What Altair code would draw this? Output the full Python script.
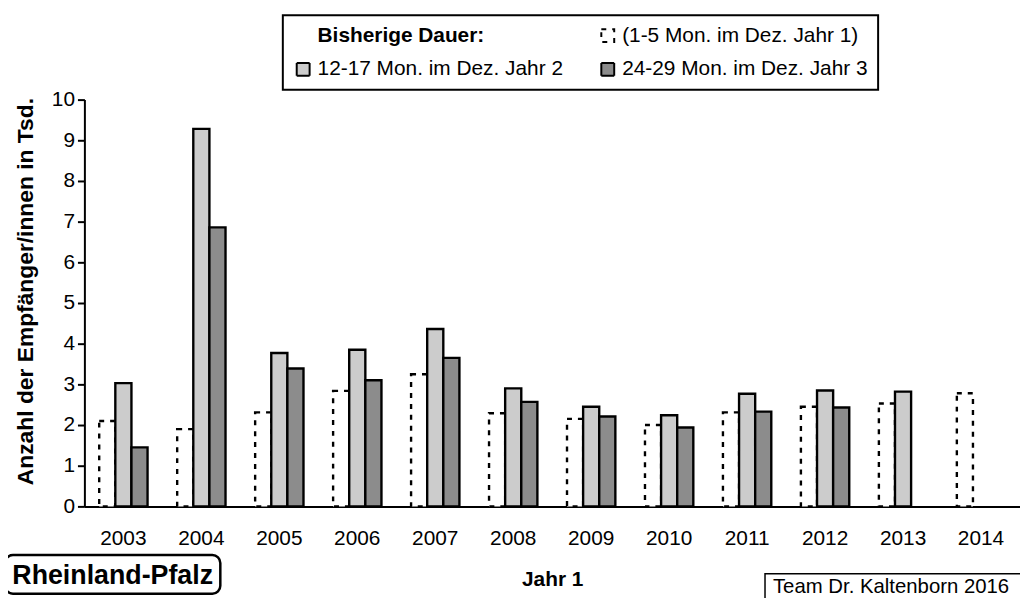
import altair as alt
import pandas as pd

years = [str(y) for y in range(2003, 2015)]
legend_labels = [
    "Bisherige Dauer:",
    "(1-5 Mon. im Dez. Jahr 1)",
    "12-17 Mon. im Dez. Jahr 2",
    "24-29 Mon. im Dez. Jahr 3",
]
jahr1 = [2.10, 1.90, 2.31, 2.84, 3.25, 2.29, 2.15, 2.00, 2.31, 2.45, 2.53, 2.78]
jahr2 = [3.03, 9.28, 3.77, 3.85, 4.36, 2.90, 2.45, 2.24, 2.77, 2.85, 2.82, None]
jahr3 = [1.45, 6.86, 3.39, 3.10, 3.65, 2.57, 2.21, 1.94, 2.33, 2.43, None, None]
y_ticks = list(range(0, 11))

rows = []
for lab, series in zip(legend_labels[1:], [jahr1, jahr2, jahr3]):
    for yr, v in zip(years, series):
        if v is not None:
            rows.append({"year": yr, "label": lab, "value": v})
df = pd.DataFrame(rows)

FONT = "Liberation Sans"

leg = alt.Legend(
    title=None,
    orient="none",
    legendX=200,
    legendY=-85,
    columns=2,
    direction="horizontal",
    symbolType="square",
    symbolSize=169,
    symbolStrokeWidth=2,
    labelFont=FONT,
    labelFontSize=21,
    labelColor="black",
    labelOffset=4,
    labelFontWeight=alt.ExprRef(expr="datum.label == 'Bisherige Dauer:' ? 'bold' : 'normal'"),
    labelLimit=400,
    padding=10,
    rowPadding=12,
    columnPadding=34,
    strokeColor="black",
    fillColor="white",
)

bars = alt.Chart(df).mark_bar(strokeWidth=2.4).encode(
    x=alt.X(
        "year:N",
        scale=alt.Scale(domain=years, paddingInner=0.38, paddingOuter=0.19),
        axis=alt.Axis(
            title="Jahr 1",
            labelAngle=0,
            ticks=False,
            tickSize=0,
            labelPadding=21,
            labelFont=FONT,
            labelFontSize=21,
            labelColor="black",
            domainColor="black",
            domainWidth=2,
            titleFont=FONT,
            titleFontSize=21,
            titleFontWeight="bold",
            titleColor="black",
            titleBaseline="alphabetic",
            titleY=80,
            grid=False,
        ),
    ),
    xOffset=alt.XOffset(
        "label:N",
        scale=alt.Scale(domain=legend_labels[1:], paddingInner=0, paddingOuter=0),
    ),
    y=alt.Y(
        "value:Q",
        scale=alt.Scale(domain=[0, 10], nice=False),
        axis=alt.Axis(
            title="Anzahl der Empfänger/innen in Tsd.",
            values=y_ticks,
            grid=False,
            domainColor="black",
            domainWidth=2,
            tickColor="black",
            tickWidth=2,
            tickSize=7,
            labelPadding=3,
            labelFont=FONT,
            labelFontSize=21,
            labelColor="black",
            titleFont=FONT,
            titleFontSize=23,
            titleFontWeight="bold",
            titleColor="black",
            titleBaseline="alphabetic",
            titleX=-52,
            titleY=193,
        ),
    ),
    color=alt.Color(
        "label:N",
        scale=alt.Scale(domain=legend_labels, range=["transparent", "white", "#cccccc", "#8c8c8c"]),
        legend=leg,
    ),
    stroke=alt.Stroke(
        "label:N",
        scale=alt.Scale(domain=legend_labels, range=["transparent", "black", "black", "black"]),
        legend=leg,
    ),
    strokeDash=alt.StrokeDash(
        "label:N",
        scale=alt.Scale(domain=legend_labels, range=[[1, 0], [5, 6], [1, 0], [1, 0]]),
        legend=leg,
    ),
)

dummy = pd.DataFrame({"k": [0]})

rp_box = alt.Chart(dummy).mark_rect(
    fill="white", stroke="black", strokeWidth=2.5, cornerRadius=8
).encode(x=alt.value(-80), x2=alt.value(137), y=alt.value(459), y2=alt.value(498))
rp_text = alt.Chart(dummy).mark_text(
    text="Rheinland-Pfalz", font=FONT, fontSize=27, fontWeight="bold", color="black",
    align="center", baseline="middle",
).encode(x=alt.value(28.5), y=alt.value(480))

team_box = alt.Chart(dummy).mark_rect(
    fill="white", stroke="black", strokeWidth=1.5
).encode(x=alt.value(686), x2=alt.value(980), y=alt.value(478), y2=alt.value(540))
team_text = alt.Chart(dummy).mark_text(
    text="Team Dr. Kaltenborn 2016", font=FONT, fontSize=20.5, color="black",
    align="left", baseline="alphabetic",
).encode(x=alt.value(694), y=alt.value(497))

chart = alt.layer(bars, rp_box, rp_text, team_box, team_text).properties(
    width=943,
    height=410,
    autosize=alt.AutoSizeParams(type="none"),
    padding={"left": 77, "top": 90, "right": 0, "bottom": 90},
).configure(font=FONT, background="white").configure_view(stroke=None).configure_legend(
    strokeWidth=2
)

chart.save("out.html", embed_options={"renderer": "svg", "actions": False})
